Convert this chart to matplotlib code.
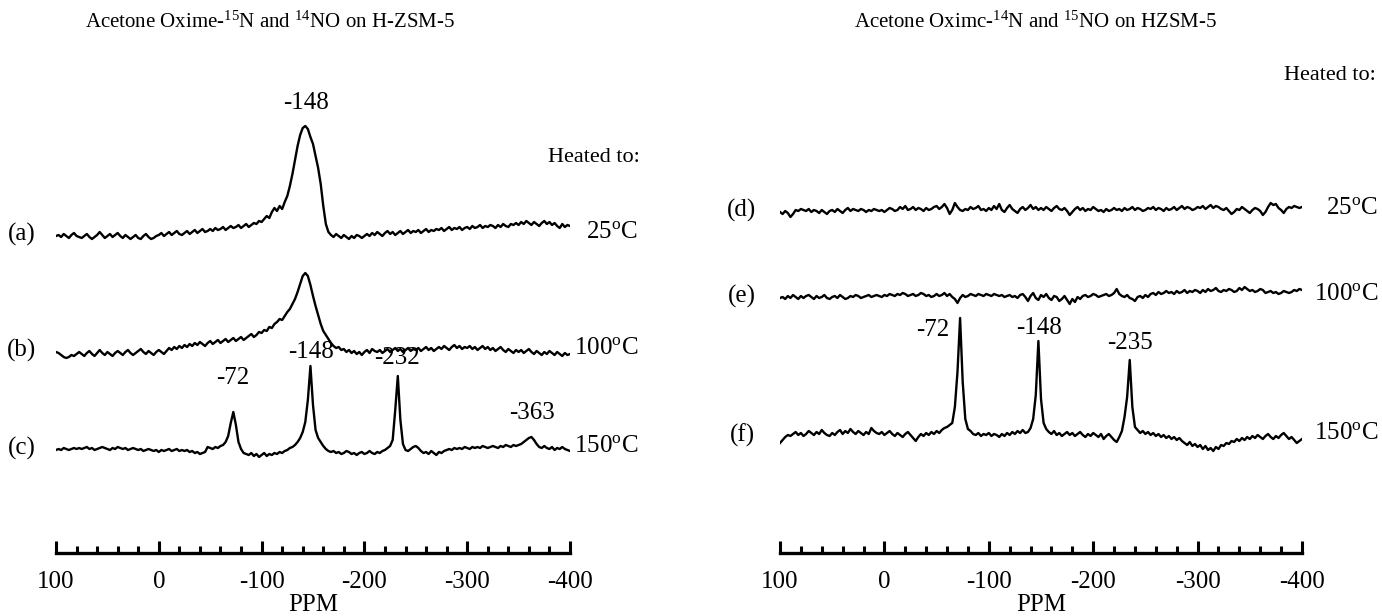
import matplotlib
matplotlib.use("Agg")
import matplotlib.pyplot as plt
import numpy as np

plt.rcParams.update({
    "font.family": "Liberation Serif",
    "mathtext.fontset": "custom",
    "mathtext.rm": "Liberation Serif",
    "mathtext.it": "Liberation Serif:italic",
})

# chemical shift grid, 100 .. -400 ppm in 2.5 ppm steps (201 points)
PPM = np.linspace(100, -400, 201)

# trace intensities (pixel units above each trace's baseline)
TRACE_A = [
    0, 1, -1, 2, 0, -2, 1, 3, 0, -1,
    -2, 0, 2, -1, -3, -1, 1, 4, 1, -2,
    0, 2, -1, 1, 3, 0, -2, 1, -1, -3,
    -1, 1, -2, -3, 0, 2, -1, -3, -2, 0,
    1, 3, 0, 2, 4, 1, 3, 5, 2, 1,
    3, 5, 2, 4, 6, 3, 5, 7, 4, 5,
    7, 5, 8, 6, 7, 9, 6, 8, 10, 8,
    9, 11, 8, 10, 12, 9, 11, 13, 12, 15,
    14, 17, 20, 18, 24, 28, 25, 30, 27, 34,
    40, 50, 62, 76, 90, 101, 108, 110, 107, 99,
    92, 80, 68, 52, 30, 12, 4, 1, -1, 2,
    0, -2, 1, -1, -3, 0, -2, 1, 0, -2,
    0, 2, 0, 3, 1, 4, 2, 0, 3, 5,
    2, 4, 1, 3, 5, 2, 4, 6, 3, 5,
    4, 6, 3, 5, 7, 4, 6, 5, 7, 6,
    8, 5, 7, 9, 6, 8, 7, 9, 6, 8,
    9, 7, 10, 8, 9, 11, 8, 10, 9, 11,
    10, 8, 11, 9, 12, 10, 9, 12, 11, 13,
    11, 14, 12, 15, 13, 11, 14, 12, 10, 13,
    15, 12, 14, 11, 13, 10, 8, 12, 9, 11,
    10,
]
TRACE_B = [
    0, -1, -3, -5, -6, -5, -3, -4, -2, 0,
    -2, -4, -1, 1, -2, -4, -1, 2, -1, -3,
    0, -2, -4, -1, 1, -1, -3, 0, 2, -1,
    -3, -1, 1, 3, 0, -2, 1, -1, -3, 0,
    2, 0, -2, 1, 4, 2, 5, 3, 6, 4,
    7, 5, 8, 6, 9, 7, 10, 8, 6, 9,
    11, 8, 10, 12, 9, 11, 13, 10, 12, 14,
    11, 13, 15, 12, 14, 16, 18, 15, 17, 20,
    19, 22, 21, 25, 24, 28, 30, 33, 32, 36,
    40, 43, 48, 53, 60, 68, 76, 79, 76, 67,
    56, 46, 37, 28, 21, 17, 13, 9, 6, 4,
    5, 2, 3, 0, 2, -1, 1, -2, 0, -3,
    0, 2, -1, 3, 1, 0, 2, -1, 1, 3,
    0, 2, 4, 1, 3, 0, 2, 4, 1, 3,
    2, 4, 1, 3, 5, 2, 4, 1, 3, 5,
    3, 6, 4, 2, 5, 7, 4, 6, 3, 5,
    4, 6, 3, 5, 2, 4, 6, 3, 5, 2,
    4, 1, 3, 5, 2, 0, 3, 1, -1, 2,
    0, 2, -1, 1, 3, 0, -2, 1, -1, -3,
    0, -2, 1, -1, -3, 0, -2, -4, -1, -3,
    -2,
]
TRACE_C = [
    0, 1, 0, 2, 1, 0, 1, 2, 1, 2,
    1, 2, 3, 1, 2, 0, 1, 2, 3, 2,
    1, 0, 2, 1, 3, 2, 1, 2, 0, 1,
    2, 1, 0, 1, -1, 0, 1, 0, -1, 0,
    -2, 0, -1, 0, 1, -1, 0, 1, -1, 0,
    -1, 0, -2, -1, -3, -2, -4, -3, -2, 3,
    2, 1, 3, 2, 4, 5, 8, 14, 27, 38,
    25, 8, 1, -3, -4, -5, -3, -6, -4, -7,
    -5, -3, -6, -4, -5, -3, -4, -2, -3, -1,
    0, 2, 3, 5, 8, 12, 18, 28, 50, 84,
    45, 20, 12, 8, 4, 1, -1, -2, -1, -3,
    -2, -4, -3, -1, -2, -4, -3, -5, -3, -2,
    -4, -3, -1, -3, -4, -2, -3, -1, 0, 2,
    4, 10, 40, 74, 30, 6, 0, -1, 1, 3,
    4, 2, -1, -3, -2, -4, -1, -3, -5, -2,
    -3, -1, 0, 1, 0, 2, 1, 2, 1, 3,
    2, 1, 3, 2, 3, 2, 4, 3, 2, 3,
    4, 3, 2, 4, 3, 5, 4, 3, 5, 4,
    5, 6, 8, 10, 12, 13, 10, 6, 3, 2,
    4, 2, 1, 3, 0, 2, 1, 3, 1, 0,
    -1,
]
TRACE_D = [
    0, -2, 1, -1, -5, -2, 2, 1, 3, 2,
    1, 3, 0, 2, 1, -1, 2, 0, -2, 1,
    2, 0, 3, 1, -1, 2, 4, 1, 3, 2,
    1, 3, 2, 0, 2, 1, 3, 2, 1, 2,
    0, 2, 4, 3, 1, 2, 5, 3, 6, 2,
    3, 5, 2, 4, 3, 1, 4, 2, 3, 5,
    6, 3, 5, 8, 4, -2, 2, 9, 5, 2,
    1, 3, 2, 5, 3, 4, 6, 2, 3, 1,
    4, 2, 6, 3, 8, 2, 0, 4, 7, 3,
    1, -1, 3, 5, 2, 4, 7, 3, 5, 2,
    4, 2, 5, 3, 1, 4, 6, 3, 2, 4,
    1, -3, 0, 3, 5, 2, 4, 1, 3, 2,
    5, 3, 1, 2, 0, 3, 1, 2, 4, 2,
    3, 1, 4, 2, 3, 5, 2, 4, 3, 1,
    2, 4, 3, 5, 2, 4, 3, 1, 4, 2,
    3, 5, 2, 4, 6, 3, 5, 4, 2, 3,
    5, 4, 6, 3, 5, 7, 4, 6, 5, 3,
    2, 4, 1, -2, 0, 3, 2, 5, 3, 1,
    -1, 2, 4, 3, 1, -3, 0, 5, 9, 7,
    8, 4, 2, -1, 3, 5, 4, 6, 5, 4,
    5,
]
TRACE_E = [
    0, 1, -1, 2, 0, 3, 1, -1, 2, 0,
    2, 3, 1, -1, 2, 0, 1, 3, 0, -1,
    1, 2, 0, 3, 1, -1, 0, 2, 1, 3,
    2, 0, 1, 2, 3, 1, 2, 3, 2, 1,
    3, 2, 4, 3, 2, 4, 3, 5, 4, 2,
    3, 4, 2, 3, 5, 4, 2, 3, 1, 2,
    4, 2, 3, 5, 2, 4, 1, -1, -5, 0,
    3, 1, 2, 4, 3, 2, 4, 3, 2, 4,
    3, 2, 4, 3, 2, 3, 1, 2, 3, 1,
    2, 0, 3, 4, 1, -3, 2, 5, 0, -2,
    3, 1, 4, 0, -2, 2, 1, -3, -1, 2,
    -2, -6, -1, -4, 1, -1, 2, 3, 1, 2,
    4, 3, 1, 2, 3, 4, 2, 3, 5, 9,
    4, 2, 1, 3, 0, -1, -3, 1, 2, 0,
    3, 1, 4, 5, 3, 6, 4, 5, 7, 5,
    6, 4, 7, 5, 6, 8, 5, 7, 6, 8,
    7, 5, 8, 6, 9, 7, 8, 10, 7, 6,
    8, 7, 9, 8, 6, 7, 10, 8, 11, 9,
    7, 8, 6, 7, 9, 8, 5, 6, 7, 5,
    6, 4, 5, 7, 6, 5, 6, 8, 7, 9,
    8,
]
TRACE_F = [
    -6, -3, 0, 2, 1, 3, 5, 2, 4, 1,
    3, 6, 4, 2, 5, 3, 7, 4, 2, 1,
    4, 2, 5, 7, 3, 6, 4, 8, 5, 3,
    6, 4, 2, 5, 3, 9, 6, 4, 3, 5,
    2, 4, 6, 3, 1, 4, 2, 0, 3, 5,
    2, -1, -4, 0, 3, 1, 4, 2, 5, 3,
    6, 4, 7, 9, 10, 12, 14, 30, 65, 119,
    55, 18, 8, 6, 3, 2, 4, 1, 3, 2,
    4, 1, 3, 2, 0, 3, 1, 4, 2, 5,
    3, 6, 4, 7, 4, 5, 9, 18, 42, 96,
    38, 14, 8, 5, 3, 6, 2, 4, 1, 3,
    5, 2, 4, 1, 3, 5, 2, 0, 3, 1,
    4, 2, 0, 3, -2, 1, 3, 0, -3, -5,
    0, 6, 20, 40, 77, 30, 10, 7, 4, 6,
    3, 5, 2, 4, 1, 3, 0, 2, -1, 1,
    -2, 0, -3, -1, -4, -6, -8, -5, -9, -7,
    -10, -8, -12, -9, -13, -11, -14, -10, -12, -8,
    -9, -6, -7, -4, -5, -2, -4, -1, -3, 0,
    -2, 1, -1, 2, 0, -2, 1, 3, 0, -2,
    1, -1, 2, 4, 1, -2, 0, -3, -6, -4,
    -2,
]

LEFT_TRACES = [TRACE_A, TRACE_B, TRACE_C]
LEFT_LABELS = ["(a)", "(b)", "(c)"]
RIGHT_TRACES = [TRACE_D, TRACE_E, TRACE_F]
RIGHT_LABELS = ["(d)", "(e)", "(f)"]
TEMPS = ["25$^{\\mathrm{o}}$C", "100$^{\\mathrm{o}}$C", "150$^{\\mathrm{o}}$C"]

# peak annotations: (ppm, text)
LEFT_PEAK_PPM = [-143, -72, -148, -232, -363]
LEFT_PEAK_TXT = ["-148", "-72", "-148", "-232", "-363"]
RIGHT_PEAK_PPM = [-72, -148, -235]
RIGHT_PEAK_TXT = ["-72", "-148", "-235"]

TITLE_L = "Acetone Oxime-$^{15}$N and $^{14}$NO on H-ZSM-5"
TITLE_R = "Acetone Oximc-$^{14}$N and $^{15}$NO on HZSM-5"

W, H = 1382, 616
fig = plt.figure(figsize=(W / 100, H / 100), dpi=100)

AX_Y = 553  # pixel row of the ppm axis


def make_ax(x0, x1):
    ax = fig.add_axes([x0 / W, (H - AX_Y) / H, (x1 - x0) / W, AX_Y / H])
    ax.set_xlim(100, -400)
    ax.set_ylim(AX_Y, 0)  # y in pixel rows from the top
    for s in ["top", "left", "right"]:
        ax.spines[s].set_visible(False)
    ax.spines["bottom"].set_linewidth(2.4)
    ax.set_yticks([])
    ax.set_xticks(np.arange(100, -401, -100))
    ax.set_xticklabels(["100", "0", "-100", "-200", "-300", "-400"])
    ax.set_xticks(np.arange(100, -401, -20), minor=True)
    ax.tick_params(axis="x", which="major", direction="in", length=9, width=2.2,
                   labelsize=18, pad=13)
    ax.tick_params(axis="x", which="minor", direction="in", length=5, width=2.2)
    ax.set_xlabel("PPM", fontsize=18, labelpad=1)
    ax.patch.set_alpha(0)
    return ax


def px_to_ppm(px, x0, x1):
    return 100 - (px - x0) * 500 / (x1 - x0)


# ── left panel ────────────────────────────────────────────────────────────────
LX0, LX1 = 56, 570
axL = make_ax(LX0, LX1)
rows_L = [236, 352, 450]
for tr, r, lab, tmp in zip(LEFT_TRACES, rows_L, LEFT_LABELS, TEMPS):
    axL.plot(PPM, r - np.array(tr), color="black", lw=1.7)
    axL.text(px_to_ppm(22, LX0, LX1), r - 2, lab, fontsize=18, ha="center", va="center")
    axL.text(px_to_ppm(638, LX0, LX1), r - 4, tmp, fontsize=18, ha="right", va="center")
axL.text(px_to_ppm(640, LX0, LX1), 158, "Heated to:", fontsize=16, ha="right", va="center")
for pos, txt, row in zip(LEFT_PEAK_PPM, LEFT_PEAK_TXT, [103, 378, 352, 358, 413]):
    axL.text(pos, row, txt, fontsize=18, ha="center", va="center")
axL.text(px_to_ppm(270, LX0, LX1), 22, TITLE_L, fontsize=15, ha="center", va="center")

# ── right panel ───────────────────────────────────────────────────────────────
RX0, RX1 = 780, 1302
axR = make_ax(RX0, RX1)
rows_R = [212, 298, 437]
for tr, r, lab, tmp in zip(RIGHT_TRACES, rows_R, RIGHT_LABELS, TEMPS):
    axR.plot(PPM, r - np.array(tr), color="black", lw=1.7)
    axR.text(px_to_ppm(742, RX0, RX1), r - 2, lab, fontsize=18, ha="center", va="center")
    axR.text(px_to_ppm(1378, RX0, RX1), r - 4, tmp, fontsize=18, ha="right", va="center")
axR.text(px_to_ppm(1376, RX0, RX1), 76, "Heated to:", fontsize=16, ha="right", va="center")
for pos, txt, row, ha in zip(RIGHT_PEAK_PPM, RIGHT_PEAK_TXT, [330, 328, 343],
                             ["right", "center", "center"]):
    x = pos + 10 if ha == "right" else pos  # "-72" sits just left of its peak
    axR.text(x, row, txt, fontsize=18, ha=ha, va="center")
axR.text(px_to_ppm(1035, RX0, RX1), 22, TITLE_R, fontsize=15, ha="center", va="center")

fig.savefig("out.png", dpi=100)
